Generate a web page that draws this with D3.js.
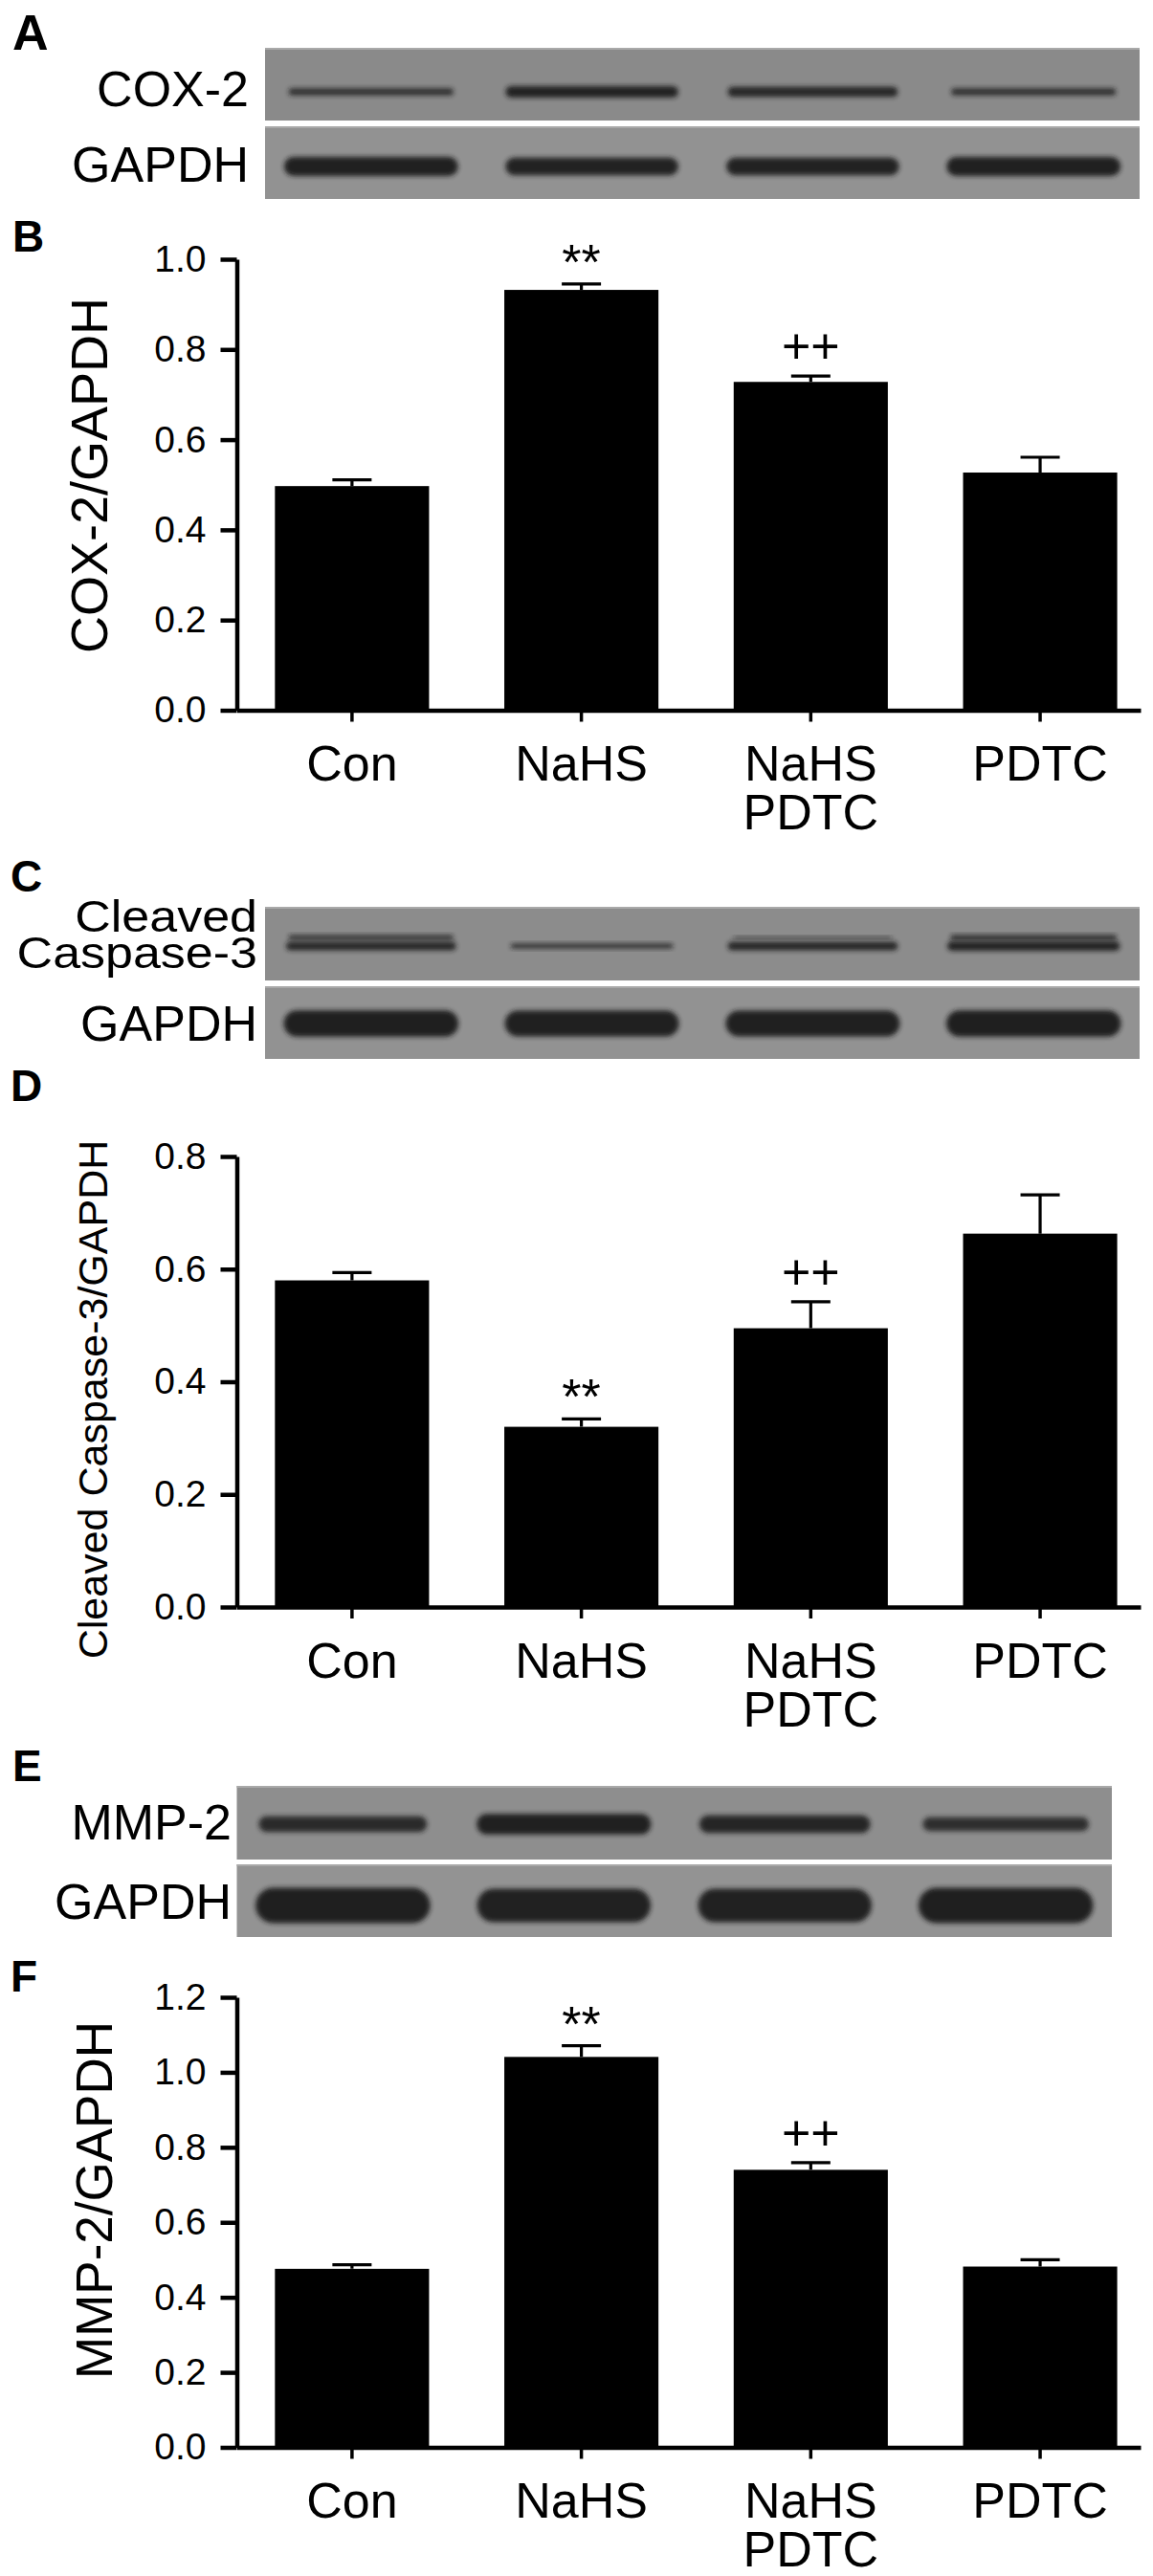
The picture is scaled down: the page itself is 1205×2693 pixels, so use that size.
<html>
<head>
  <script src="https://d3js.org/d3.v7.min.js"></script>
  <style>
    body { margin: 0; background: white; }
    svg text { font-family: "Liberation Sans", Arial, sans-serif; fill: black; }
    .panel_letter { font-weight: bold; font-size: 46px; }
  </style>
</head>
<body>
<svg id="figure" width="1205" height="2693"></svg>
<script>
  // groups (a second line after \n)
  const categories = ["Con", "NaHS", "NaHS\nPDTC", "PDTC"];
  const marks = ["", "**", "++", ""];

  // B: COX-2/GAPDH
  const cox2Mean = [0.497, 0.932, 0.728, 0.527];
  const cox2Err = [0.014, 0.013, 0.013, 0.034];
  const cox2Ticks = [0, 0.2, 0.4, 0.6, 0.8, 1.0];

  // D: Cleaved Caspase-3/GAPDH
  const casp3Mean = [0.580, 0.320, 0.495, 0.663];
  const casp3Err = [0.014, 0.014, 0.047, 0.069];
  const casp3Ticks = [0, 0.2, 0.4, 0.6, 0.8];

  // F: MMP-2/GAPDH
  const mmp2Mean = [0.476, 1.041, 0.740, 0.482];
  const mmp2Err = [0.011, 0.030, 0.019, 0.018];
  const mmp2Ticks = [0, 0.2, 0.4, 0.6, 0.8, 1.0, 1.2];

  // western blot band strength per lane (0-1)
  const cox2Band = [0.55, 0.85, 0.75, 0.55];
  const gapdhBandA = [0.9, 0.85, 0.85, 0.9];
  const casp3UpperBand = [0.55, 0.0, 0.3, 0.6];
  const casp3LowerBand = [0.75, 0.45, 0.75, 0.85];
  const gapdhBandC = [0.92, 0.9, 0.9, 0.92];
  const mmp2Band = [0.68, 0.9, 0.78, 0.6];
  const gapdhBandE = [0.92, 0.88, 0.88, 0.92];

  const svg = d3.select("#figure");

  // soft edges for the blot bands
  svg.append("defs").append("filter")
    .attr("id", "soft")
    .attr("x", "-10%").attr("y", "-60%")
    .attr("width", "120%").attr("height", "220%")
    .append("feGaussianBlur")
    .attr("stdDeviation", 2.4);

  // panel letters
  const letters = [["A", 13, 52], ["B", 13, 263], ["C", 11, 932],
                   ["D", 11, 1151], ["E", 13, 1862], ["F", 11, 2082]];
  svg.selectAll(".panel_letter")
    .data(letters)
    .enter()
    .append("text")
    .attr("class", "panel_letter")
    .attr("x", d => d[1])
    .attr("y", d => d[2])
    .style("font-size", d => d[0] == "A" ? "52px" : null)
    .text(d => d[0]);

  function drawBlot(cfg) {
    const g = svg.append("g");
    const lane = d3.scaleBand()
      .domain(categories)
      .range([cfg.x0, cfg.x1])
      .paddingInner(0.2)
      .paddingOuter(0.08);

    cfg.rows.forEach(row => {
      g.append("rect")
        .attr("x", cfg.x0)
        .attr("y", row.y0)
        .attr("width", cfg.x1 - cfg.x0)
        .attr("height", row.y1 - row.y0)
        .attr("fill", row.bg);

      g.append("line")
        .attr("x1", cfg.x0).attr("x2", cfg.x1)
        .attr("y1", row.y0 + 1).attr("y2", row.y0 + 1)
        .attr("stroke", "#a9a9a9")
        .attr("stroke-width", 2);

      row.bands.forEach(b => {
        const h = d3.scaleLinear().domain([0, 1]).range([0, b.maxH]);
        g.selectAll(null)
          .data(categories.map((c, i) => ({ c: c, v: b.data[i] })).filter(d => d.v > 0))
          .enter()
          .append("rect")
          .attr("x", d => lane(d.c) + lane.bandwidth() * (1 - (0.85 + 0.15 * d.v)) / 2)
          .attr("width", d => lane.bandwidth() * (0.85 + 0.15 * d.v))
          .attr("y", d => row.y0 + b.dy - h(d.v) / 2)
          .attr("height", d => h(d.v))
          .attr("rx", d => h(d.v) / 2)
          .attr("fill", "#1a1a1a")
          .attr("opacity", d => 0.6 + 0.4 * d.v)
          .attr("filter", "url(#soft)");
      });

      row.labels.forEach(l => {
        g.append("text")
          .attr("transform", "translate(" + cfg.labelX + "," + l.y + ") scale(1," + (l.sy || 1) + ")")
          .attr("text-anchor", "end")
          .attr("font-size", 52)
          .text(l.text);
      });
    });
  }

  function drawChart(cfg) {
    const g = svg.append("g");
    const x = d3.scaleBand()
      .domain(categories)
      .range([247.5, 1192])
      .paddingInner(0.328)
      .paddingOuter(0.134)
      .align(0.62);
    const y = d3.scaleLinear()
      .domain([0, d3.max(cfg.ticks)])
      .range([cfg.bottom, cfg.top]);

    const rows = categories.map((c, i) => ({ c: c, m: cfg.mean[i], e: cfg.err[i], mark: marks[i] }));

    g.selectAll(".bar")
      .data(rows)
      .enter()
      .append("rect")
      .attr("class", "bar")
      .attr("x", d => x(d.c))
      .attr("y", d => y(d.m))
      .attr("width", x.bandwidth())
      .attr("height", d => y(0) - y(d.m))
      .attr("fill", "black");

    // error bars (upper half only, like the original)
    const cx = d => x(d.c) + x.bandwidth() / 2;
    g.selectAll(".err")
      .data(rows)
      .enter()
      .append("path")
      .attr("class", "err")
      .attr("d", d => "M" + cx(d) + "," + y(d.m) + "V" + y(d.m + d.e) +
        "M" + (cx(d) - 20.5) + "," + y(d.m + d.e) + "H" + (cx(d) + 20.5))
      .attr("stroke", "black")
      .attr("stroke-width", 3.2)
      .attr("fill", "none");

    const markOffset = { "**": 5, "++": 13 };
    g.selectAll(".mark")
      .data(rows.filter(d => d.mark))
      .enter()
      .append("text")
      .attr("class", "mark")
      .attr("x", cx)
      .attr("y", d => y(d.m + d.e) - markOffset[d.mark])
      .attr("text-anchor", "middle")
      .attr("font-size", 52)
      .text(d => d.mark);

    const yAxis = g.append("g")
      .attr("transform", "translate(247.5,0)")
      .call(d3.axisLeft(y)
        .tickValues(cfg.ticks)
        .tickFormat(d3.format(".1f"))
        .tickSize(17)
        .tickSizeOuter(0)
        .tickPadding(15))
      .attr("font-size", 39);

    const xAxis = g.append("g")
      .attr("transform", "translate(0," + cfg.bottom + ")")
      .call(d3.axisBottom(x).tickSize(12).tickSizeOuter(0))
      .attr("font-size", 52);

    xAxis.selectAll(".tick text")
      .attr("dy", null)
      .each(function (d) {
        const t = d3.select(this);
        t.text(null);
        d.split("\n").forEach((line, i) => {
          t.append("tspan").attr("x", 0).attr("y", 73.5 + i * 51).text(line);
        });
      });

    g.selectAll(".domain").attr("stroke", "black").attr("stroke-width", 4.5);
    yAxis.selectAll(".tick line").attr("stroke-width", 4.5);
    xAxis.selectAll(".tick line").attr("stroke-width", 3.5);

    g.append("text")
      .attr("transform", "translate(" + cfg.titleX + "," + cfg.titleY + ") rotate(-90)")
      .attr("text-anchor", "middle")
      .attr("font-size", cfg.titleSize)
      .text(cfg.title);
  }

  // A
  drawBlot({
    x0: 277, x1: 1191, labelX: 260,
    rows: [
      { y0: 50, y1: 126, bg: "#8a8a8a", labels: [{ text: "COX-2", y: 111 }],
        bands: [{ data: cox2Band, dy: 46, maxH: 14 }] },
      { y0: 132, y1: 208, bg: "#929292", labels: [{ text: "GAPDH", y: 190 }],
        bands: [{ data: gapdhBandA, dy: 42, maxH: 22 }] }
    ]
  });

  // B
  drawChart({ mean: cox2Mean, err: cox2Err, ticks: cox2Ticks, top: 271, bottom: 742.5,
    title: "COX-2/GAPDH", titleX: 112, titleY: 497, titleSize: 54 });

  // C
  drawBlot({
    x0: 277, x1: 1191, labelX: 269,
    rows: [
      { y0: 948, y1: 1025, bg: "#8c8c8c",
        labels: [{ text: "Cleaved", y: 974, sy: 0.88 }, { text: "Caspase-3", y: 1012, sy: 0.88 }],
        bands: [{ data: casp3UpperBand, dy: 32, maxH: 9 }, { data: casp3LowerBand, dy: 41, maxH: 12 }] },
      { y0: 1031, y1: 1107, bg: "#929292", labels: [{ text: "GAPDH", y: 1088 }],
        bands: [{ data: gapdhBandC, dy: 39, maxH: 30 }] }
    ]
  });

  // D
  drawChart({ mean: casp3Mean, err: casp3Err, ticks: casp3Ticks, top: 1209, bottom: 1680,
    title: "Cleaved Caspase-3/GAPDH", titleX: 112, titleY: 1463, titleSize: 43 });

  // E
  drawBlot({
    x0: 247.5, x1: 1162, labelX: 242,
    rows: [
      { y0: 1867, y1: 1944, bg: "#8e8e8e", labels: [{ text: "MMP-2", y: 1923 }],
        bands: [{ data: mmp2Band, dy: 40, maxH: 24 }] },
      { y0: 1949, y1: 2025, bg: "#939393", labels: [{ text: "GAPDH", y: 2006 }],
        bands: [{ data: gapdhBandE, dy: 43, maxH: 40 }] }
    ]
  });

  // F
  drawChart({ mean: mmp2Mean, err: mmp2Err, ticks: mmp2Ticks, top: 2088, bottom: 2558.5,
    title: "MMP-2/GAPDH", titleX: 117, titleY: 2300, titleSize: 53 });
</script>
</body>
</html>
